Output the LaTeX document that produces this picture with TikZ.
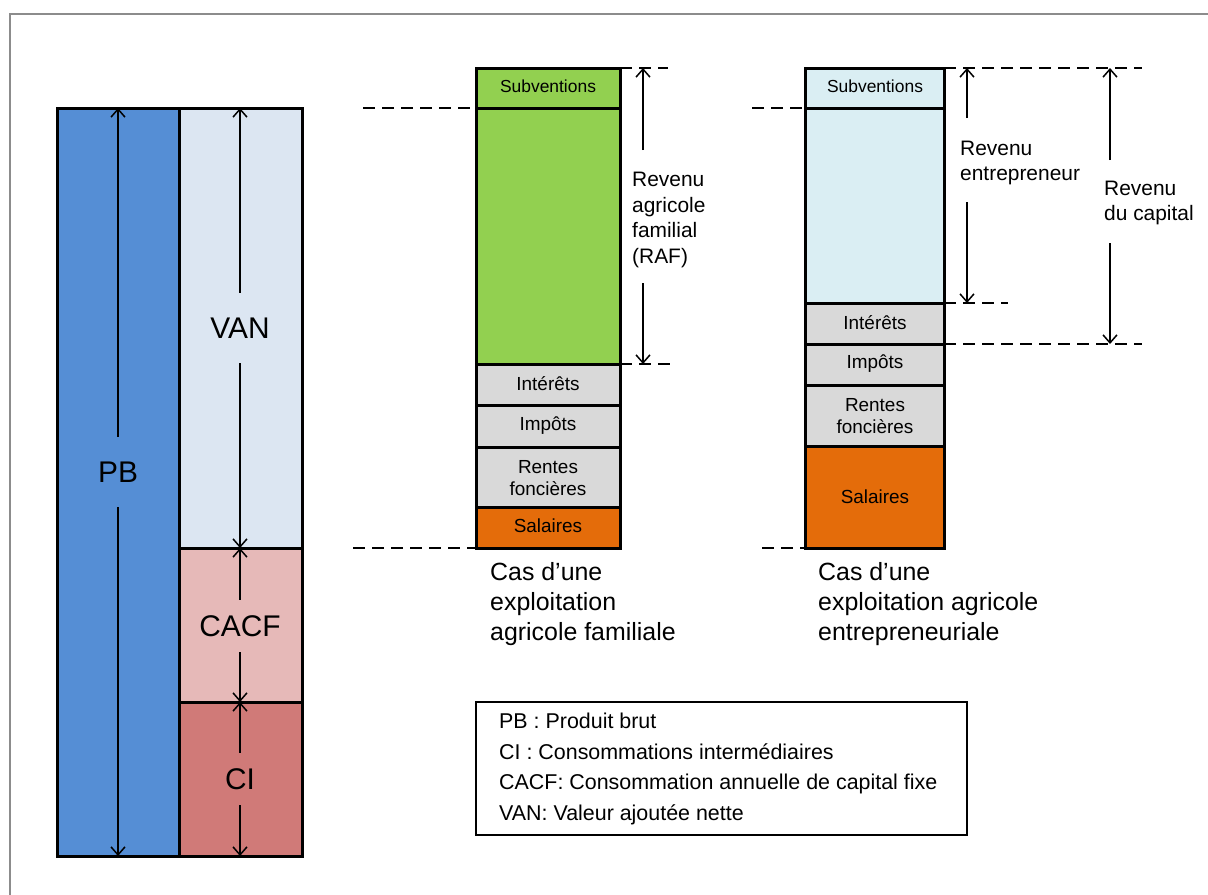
\documentclass[tikz,border=0pt]{standalone}
\usepackage{fontspec}
\setmainfont{Liberation Sans}
\usetikzlibrary{arrows.meta}
\definecolor{pbblue}{HTML}{558ED5}
\definecolor{vanblue}{HTML}{DCE6F2}
\definecolor{cacfpink}{HTML}{E6B9B8}
\definecolor{cired}{HTML}{D07A78}
\definecolor{subgreen}{HTML}{92D050}
\definecolor{lgray}{HTML}{D9D9D9}
\definecolor{salorange}{HTML}{E46C0A}
\definecolor{entblue}{HTML}{DAEEF3}
\definecolor{framegray}{HTML}{8C8C8C}
\begin{document}
\begin{tikzpicture}[x=1bp,y=-1bp,
  bar/.style={draw=black,line width=3bp},
  dim/.style={draw=black,line width=1.5bp,arrows={-Straight Barb[length=8bp,width=14bp,line width=1.5bp]}},
  guide/.style={draw=black,line width=2bp,dash pattern=on 12bp off 7bp},
  big/.style={font=\fontsize{30}{36}\selectfont,inner sep=0bp},
  seglabel/.style={font=\fontsize{19}{22.5}\selectfont,align=center,inner sep=0bp},
  sublabel/.style={font=\fontsize{17.5}{21}\selectfont,inner sep=0bp},
  revlabel/.style={font=\fontsize{21}{26}\selectfont,align=left,anchor=west,inner sep=0bp},
  caption/.style={font=\fontsize{25}{30}\selectfont,align=left,anchor=west,inner sep=0bp},
  legendtext/.style={font=\fontsize{21.5}{31}\selectfont,align=left,anchor=west,inner sep=0bp}]

\useasboundingbox (0,0) rectangle (1208,895);
\draw[framegray,line width=2bp] (1208,14) -- (10,14) -- (10,895);

% ---- left stacked bars
\draw[bar,fill=pbblue] (57,108) rectangle (179,856);
\draw[bar,fill=vanblue] (179,108) rectangle (302,548);
\draw[bar,fill=cacfpink] (179,548) rectangle (302,702);
\draw[bar,fill=cired] (179,702) rectangle (302,856);

\node[big,minimum height=70bp] (PB) at (118,472) {PB};
\coordinate (pbtop) at (118,108);
\coordinate (pbbot) at (118,856);
\draw[dim] (PB) -- (pbtop);
\draw[dim] (PB) -- (pbbot);

\node[big,minimum height=70bp] (VAN) at (240,328) {VAN};
\coordinate (vantop) at (240,108);
\coordinate (vanbot) at (240,548);
\draw[dim] (VAN) -- (vantop);
\draw[dim] (VAN) -- (vanbot);

\node[big,minimum height=52bp] (CACF) at (240,626) {CACF};
\coordinate (cacftop) at (240,548);
\coordinate (cacfbot) at (240,702);
\draw[dim] (CACF) -- (cacftop);
\draw[dim] (CACF) -- (cacfbot);

\node[big,minimum height=52bp] (CI) at (240,779) {CI};
\coordinate (citop) at (240,702);
\coordinate (cibot) at (240,856);
\draw[dim] (CI) -- (citop);
\draw[dim] (CI) -- (cibot);

% ---- middle bar (exploitation familiale)
\draw[bar,fill=subgreen] (476,68) rectangle (620,108);
\draw[bar,fill=subgreen] (476,108) rectangle (620,364);
\draw[bar,fill=lgray] (476,364) rectangle (620,405);
\draw[bar,fill=lgray] (476,405) rectangle (620,447);
\draw[bar,fill=lgray] (476,447) rectangle (620,507);
\draw[bar,fill=salorange] (476,507) rectangle (620,548);

\node[sublabel] (msub) at (548,86) {Subventions};
\node[seglabel] (mint) at (548,384) {Intérêts};
\node[seglabel] (mimp) at (548,426) {Impôts};
\node[seglabel] (mren) at (548,478) {Rentes\\foncières};
\node[seglabel] (msal) at (548,526) {Salaires};

% ---- right bar (exploitation entrepreneuriale)
\draw[bar,fill=entblue] (805,68) rectangle (944,108);
\draw[bar,fill=entblue] (805,108) rectangle (944,303);
\draw[bar,fill=lgray] (805,303) rectangle (944,344);
\draw[bar,fill=lgray] (805,344) rectangle (944,385);
\draw[bar,fill=lgray] (805,385) rectangle (944,446);
\draw[bar,fill=salorange] (805,446) rectangle (944,548);

\node[sublabel] (rsub) at (875,86) {Subventions};
\node[seglabel] (rint) at (875,323) {Intérêts};
\node[seglabel] (rimp) at (875,364) {Impôts};
\node[seglabel] (rren) at (875,416) {Rentes\\foncières};
\node[seglabel] (rsal) at (875,497) {Salaires};

% ---- dashed guide lines
\draw[guide] (363,108) -- (476,108);
\draw[guide] (353,548) -- (476,548);
\draw[guide] (620,68) -- (668,68);
\draw[guide] (620,364) -- (671,364);
\draw[guide] (752,108) -- (805,108);
\draw[guide] (762,548) -- (805,548);
\draw[guide] (944,68) -- (1142,68);
\draw[guide] (944,303) -- (1008,303);
\draw[guide] (944,344) -- (1142,344);

% ---- RAF
\node[revlabel] (RAF) at (632,220) {Revenu\\agricole\\familial\\(RAF)};
\coordinate (raftop) at (643,68);
\coordinate (rafa) at (643,150);
\coordinate (rafb) at (643,283);
\coordinate (rafbot) at (643,364);
\draw[dim] (rafa) -- (raftop);
\draw[dim] (rafb) -- (rafbot);

% ---- Revenu entrepreneur
\node[revlabel] (RENT) at (960,163) {Revenu\\entrepreneur};
\coordinate (enttop) at (967,68);
\coordinate (enta) at (967,118);
\coordinate (entb) at (967,202);
\coordinate (entbot) at (967,303);
\draw[dim] (enta) -- (enttop);
\draw[dim] (entb) -- (entbot);

% ---- Revenu du capital
\node[revlabel] (RCAP) at (1104,203) {Revenu\\du capital};
\coordinate (captop) at (1110,68);
\coordinate (capa) at (1110,160);
\coordinate (capb) at (1110,243);
\coordinate (capbot) at (1110,344);
\draw[dim] (capa) -- (captop);
\draw[dim] (capb) -- (capbot);

% ---- captions
\node[caption] (cap1) at (490,604) {Cas d’une\\exploitation\\agricole familiale};
\node[caption] (cap2) at (818,604) {Cas d’une\\exploitation agricole\\entrepreneuriale};

% ---- legend
\draw[black,line width=1.5bp] (476,702) rectangle (967,835);
\node[legendtext] (leg) at (499,769) {PB : Produit brut\\CI : Consommations intermédiaires\\CACF: Consommation annuelle de capital fixe\\VAN: Valeur ajoutée nette};
\end{tikzpicture}
\end{document}
